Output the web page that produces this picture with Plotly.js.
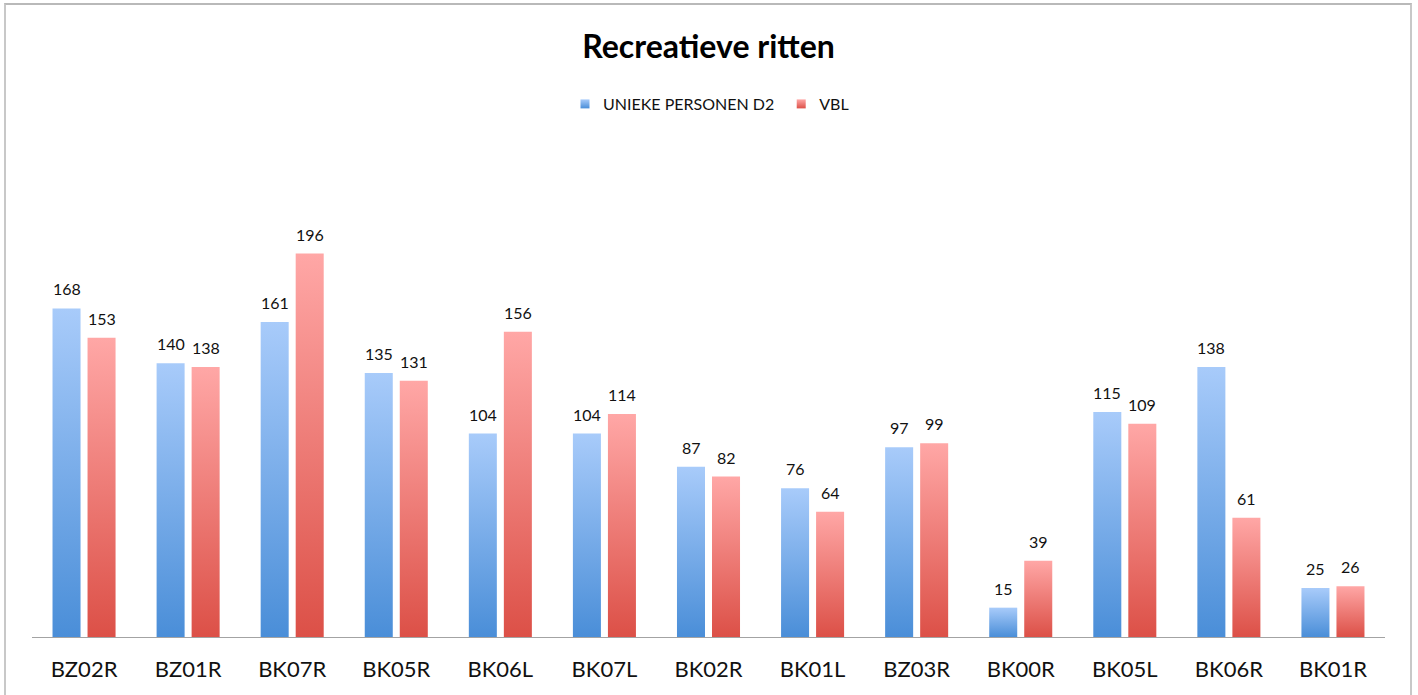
<!DOCTYPE html>
<html>
<head>
<meta charset="utf-8">
<script src="https://cdn.plot.ly/plotly-3.0.1.min.js"></script>
<style>
  html, body { margin: 0; padding: 0; background: #ffffff; }
  #wrap { position: relative; width: 1418px; height: 695px; overflow: hidden; }
  #chart { width: 1418px; height: 695px; }
  #frame {
    position: absolute; left: 4px; top: 3px; width: 1404px; height: 720px;
    border-top: 2px solid #b9b9b9; border-left: 2px solid #c8c8c8; border-right: 2px solid #c8c8c8;
    pointer-events: none;
  }
</style>
</head>
<body>
<div id="wrap">
  <div id="chart"></div>
  <div id="frame"></div>
</div>
<script>
// Route codes along the x axis
const routes = ['BZ02R', 'BZ01R', 'BK07R', 'BK05R', 'BK06L', 'BK07L', 'BK02R',
                'BK01L', 'BZ03R', 'BK00R', 'BK05L', 'BK06R', 'BK01R'];
// Counts per route
const uniekePersonen = [168, 140, 161, 135, 104, 104, 87, 76, 97, 15, 115, 138, 25];
const vbl = [153, 138, 196, 131, 156, 114, 82, 64, 99, 39, 109, 61, 26];

const seriesNames = ['UNIEKE PERSONEN D2', 'VBL'];
const FONT = 'Lato, "Open Sans", sans-serif';

const traces = [
  { type: 'bar', name: seriesNames[0], x: routes, y: uniekePersonen,
    marker: { color: '#78aaeb', line: { width: 0 } }, hoverinfo: 'x+y' },
  { type: 'bar', name: seriesNames[1], x: routes, y: vbl,
    marker: { color: '#ec7b75', line: { width: 0 } }, hoverinfo: 'x+y' }
];

// Value labels above each bar, taken from the same arrays
const annotations = [];
[uniekePersonen, vbl].forEach((vals, s) => {
  vals.forEach((v, i) => {
    annotations.push({
      x: routes[i], y: v, xref: 'x', yref: 'y',
      text: String(v), showarrow: false,
      xanchor: 'center', yanchor: 'bottom',
      xshift: s === 0 ? -17.5 : 17.5, yshift: 8,
      font: { family: FONT, size: 16, color: '#111111' }
    });
  });
});

const layout = {
  width: 1418, height: 695,
  margin: { l: 32, r: 33, t: 148, b: 58, pad: 0 },
  paper_bgcolor: '#ffffff', plot_bgcolor: '#ffffff',
  font: { family: FONT, color: '#111111' },
  title: {
    text: '<b>Recreatieve ritten</b>',
    font: { family: FONT, size: 32, color: '#000000' },
    x: 0.5, xanchor: 'center', xref: 'paper',
    y: 0.932, yanchor: 'middle', yref: 'container'
  },
  barmode: 'group', bargap: 0.327, bargroupgap: 0.2,
  showlegend: true,
  legend: {
    orientation: 'h', x: 0.5, xanchor: 'center', y: 1.09, yanchor: 'middle',
    font: { family: FONT, size: 16, color: '#111111' },
    bgcolor: 'rgba(0,0,0,0)', itemclick: false, itemdoubleclick: false
  },
  xaxis: {
    type: 'category', showline: true, linecolor: '#a3a3a3', linewidth: 1,
    showgrid: false, zeroline: false, ticks: '', ticklabelstandoff: 13,
    tickfont: { family: FONT, size: 22, color: '#111111' }, fixedrange: true
  },
  yaxis: {
    range: [0, 250], visible: false, showgrid: false, zeroline: false, fixedrange: true
  },
  annotations: annotations
};

Plotly.newPlot('chart', traces, layout, { displayModeBar: false, responsive: false })
  .then(gd => {
    // Vertical gradient fills for the bars and legend swatches
    const svg = gd.querySelector('.main-svg');
    const ns = 'http://www.w3.org/2000/svg';
    let defs = svg.querySelector('defs');
    if (!defs) { defs = document.createElementNS(ns, 'defs'); svg.insertBefore(defs, svg.firstChild); }
    const grads = [
      { id: 'gradBlue', top: '#a8cbfa', bottom: '#4a8ed8' },
      { id: 'gradRed', top: '#ffa7a6', bottom: '#dc5047' }
    ];
    grads.forEach(g => {
      const lg = document.createElementNS(ns, 'linearGradient');
      lg.setAttribute('id', g.id);
      lg.setAttribute('x1', '0'); lg.setAttribute('y1', '0');
      lg.setAttribute('x2', '0'); lg.setAttribute('y2', '1');
      [[0, g.top], [1, g.bottom]].forEach(([o, c]) => {
        const st = document.createElementNS(ns, 'stop');
        st.setAttribute('offset', o);
        st.setAttribute('stop-color', c);
        lg.appendChild(st);
      });
      defs.appendChild(lg);
    });
    gd.querySelectorAll('.barlayer .trace.bars').forEach((tr, i) => {
      tr.querySelectorAll('.point path').forEach(p => {
        p.style.fill = 'url(#' + grads[i].id + ')';
      });
    });
    gd.querySelectorAll('.legend .traces').forEach((tr, i) => {
      tr.querySelectorAll('.legendpoints path').forEach(p => {
        p.style.fill = 'url(#' + grads[i].id + ')';
        p.setAttribute('transform', 'translate(22,0) scale(0.75)');
      });
    });
  });
</script>
</body>
</html>
